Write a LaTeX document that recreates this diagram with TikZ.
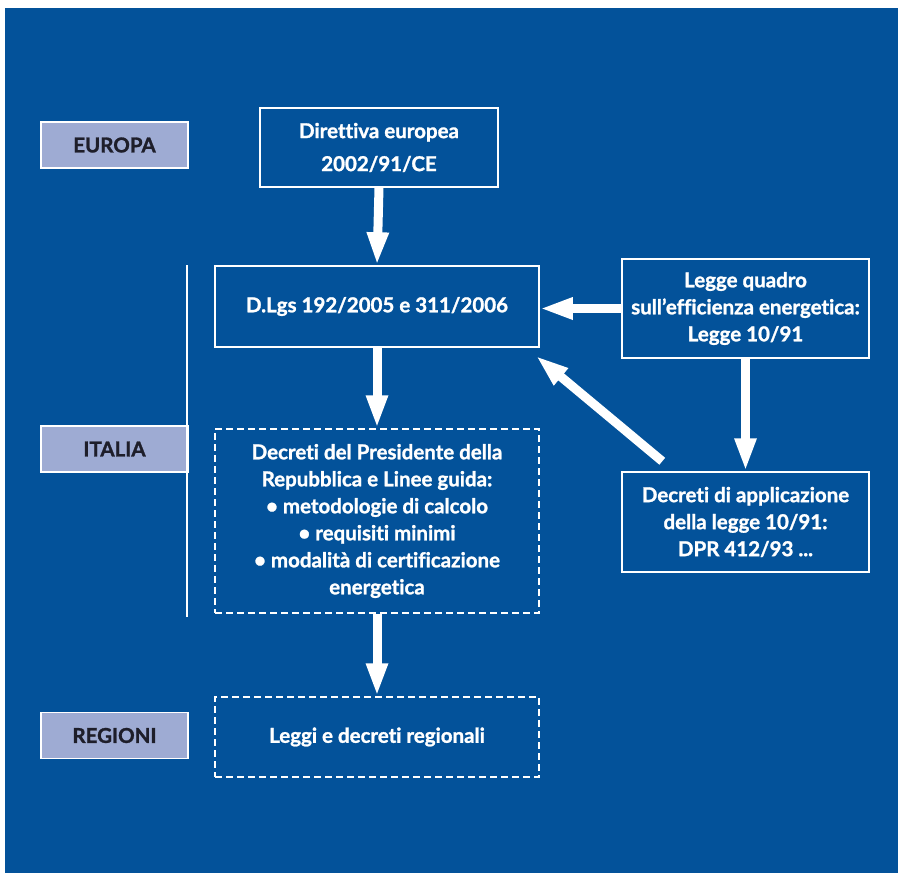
\documentclass[tikz,border=0pt]{standalone}
\usepackage{fontspec}
\setmainfont{Lato}[Ligatures=NoCommon,BoldFeatures={FakeBold=1.3}]
\usetikzlibrary{arrows.meta}
\definecolor{sfondo}{HTML}{03529A}
\definecolor{etich}{HTML}{9EABD3}
\definecolor{scuro}{HTML}{1E1E2A}

\begin{document}
\begin{tikzpicture}[x=1pt,y=-1pt,
		every node/.style={font=\fontsize{20.5}{27}\selectfont\bfseries,align=center,inner sep=0pt},
		livello/.style={draw=white,line width=1.5pt,fill=etich,text=scuro,minimum width=147pt,minimum height=46pt},
		blocco/.style={draw=white,line width=1.5pt,text=white},
		tratteggio/.style={blocco,dash pattern=on 7pt off 4pt},
		freccia/.style={white,line width=9pt,-{Triangle[length=33pt,width=20pt]}}]
		\fill[white] (0,0) rectangle (905,881);
		\fill[sfondo] (5,8) rectangle (898,873);
		% livelli
		\node[livello] (europa) at (114.5,145) {EUROPA};
		\node[livello] (italia) at (114.5,449) {ITALIA};
		\node[livello] (regioni) at (114.5,735.5) {REGIONI};
		\draw[white,line width=1.5pt] (187,265) -- (187,617);
		% blocchi
		\node[blocco,minimum width=238pt,minimum height=79pt] (direttiva) at (379,147.5) {Direttiva europea\\[6pt]2002/91/CE};
		\node[blocco,minimum width=324pt,minimum height=81pt] (dlgs) at (377,306.5) {D.Lgs 192/2005 e 311/2006};
		\node[blocco,minimum width=247pt,minimum height=99pt] (legge) at (745.5,308.5) {Legge quadro\\sull’efficienza energetica:\\Legge 10/91};
		\node[tratteggio,minimum width=324pt,minimum height=184pt] (presidente) at (377,521) {Decreti del Presidente della\\Repubblica e Linee guida:\\• metodologie di calcolo\\• requisiti minimi\\• modalità di certificazione\\energetica};
		\node[blocco,minimum width=247pt,minimum height=100pt] (applic) at (745.5,522) {Decreti di applicazione\\della legge 10/91:\\DPR 412/93 ...};
		\node[tratteggio,minimum width=324pt,minimum height=80pt] (regionali) at (377,737) {Leggi e decreti regionali};
		% frecce
		\draw[freccia] (direttiva.south) -- (dlgs.north);
		\draw[freccia] (dlgs.south) -- (presidente.north);
		\draw[freccia] (presidente.south) -- (regionali.north);
		\draw[freccia] (legge.west) -- (legge.west -| dlgs.east);
		\draw[freccia] (legge.south) -- (applic.north);
		\draw[freccia] ([xshift=41pt,yshift=10pt]applic.north west) -- ([xshift=-4pt,yshift=-8pt]dlgs.south east);
\end{tikzpicture}
\end{document}
